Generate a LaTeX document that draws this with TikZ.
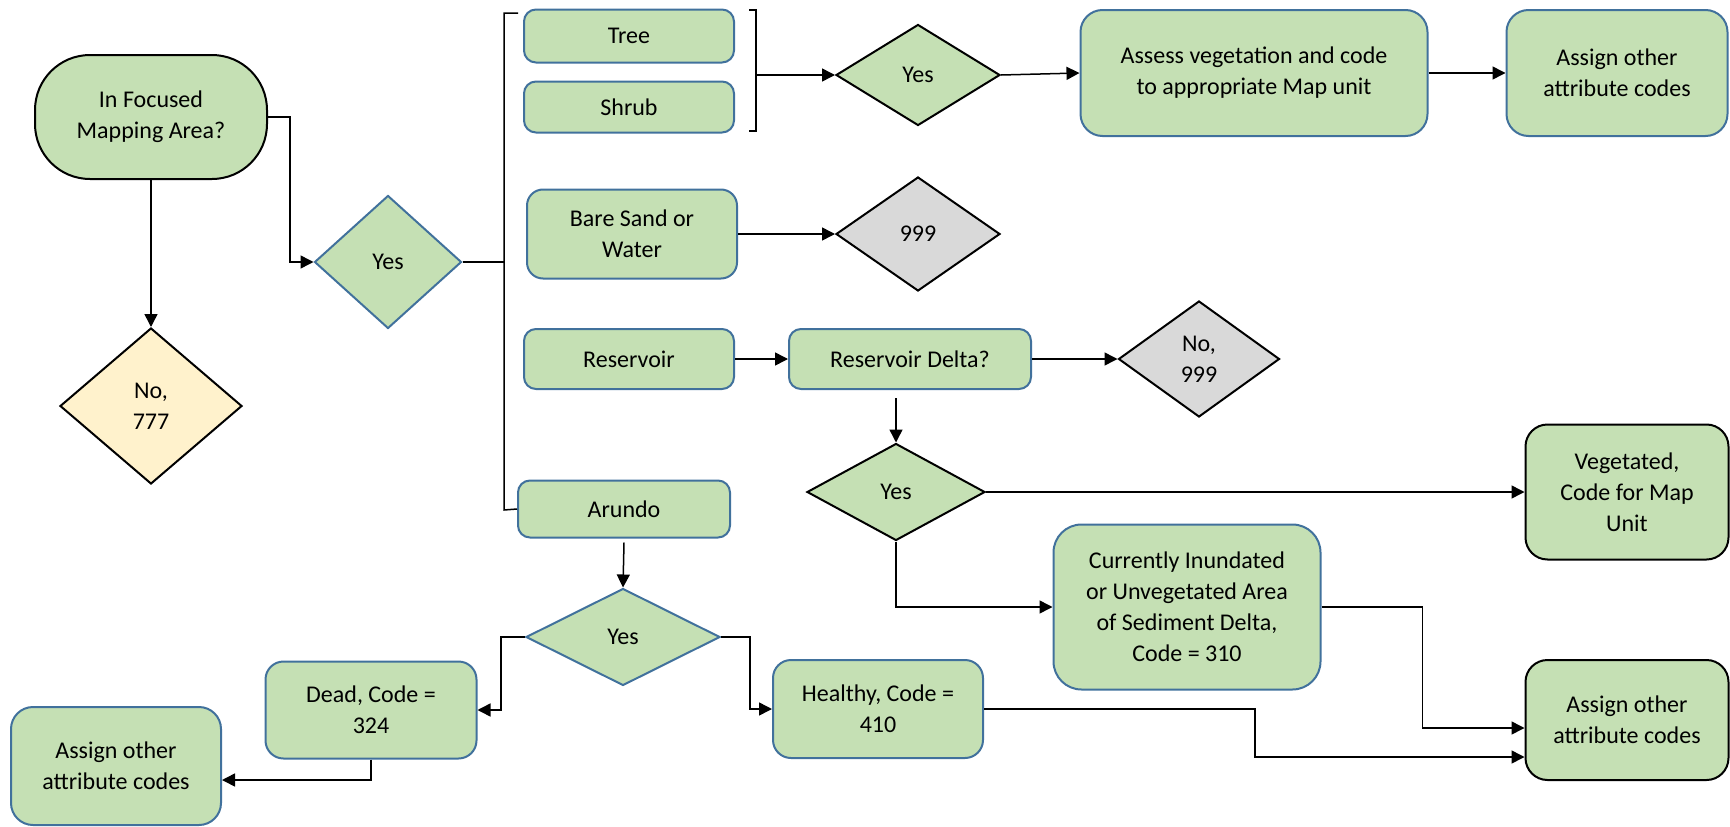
\documentclass[tikz,border=0pt]{standalone}
\usepackage{fontspec}
\setmainfont{Carlito}
\usetikzlibrary{shapes.geometric,arrows.meta,calc}
\definecolor{gfill}{HTML}{C5E0B4}
\definecolor{bdr}{HTML}{41719C}
\definecolor{grayfill}{HTML}{D9D9D9}
\definecolor{yelfill}{HTML}{FFF2CC}
\begin{document}
\begin{tikzpicture}[x=1pt,y=-1pt,
 every node/.style={font=\fontsize{24}{31}\selectfont, align=center, inner sep=0pt},
 gbox/.style={draw=bdr, fill=gfill, line width=2pt, rounded corners=12pt},
 kbox/.style={draw=black, fill=gfill, line width=2pt, rounded corners=22pt},
 dia/.style={diamond, line width=2pt},
 conn/.style={line width=1.5pt},
 arr/.style={conn, -{Triangle[length=13pt,width=13pt]}}]
\useasboundingbox (0,0) rectangle (1730,827);

\node[kbox, rounded corners=55pt, minimum width=232pt, minimum height=124pt] (start) at (151,117) {In Focused\\Mapping Area?};
\node[dia, draw=black, fill=yelfill, minimum width=182pt, minimum height=156pt] (no777) at (151,406) {No,\\777};
\node[dia, draw=bdr, fill=gfill, minimum width=147pt, minimum height=133pt] (yes1) at (388,262) {Yes};
\node[gbox, minimum width=210pt, minimum height=53pt] (tree) at (629,36) {Tree};
\node[gbox, minimum width=210pt, minimum height=51pt] (shrub) at (629,107) {Shrub};
\node[dia, draw=black, fill=gfill, minimum width=164pt, minimum height=101pt] (yes2) at (918,75) {Yes};
\node[gbox, rounded corners=22pt, minimum width=347pt, minimum height=126pt] (assess) at (1254,73) {Assess vegetation and code\\to appropriate Map unit};
\node[gbox, rounded corners=22pt, minimum width=221pt, minimum height=126pt] (assign1) at (1617,73) {Assign other\\attribute codes};
\node[gbox, rounded corners=16pt, minimum width=210pt, minimum height=89pt] (bare) at (632,234) {Bare Sand or\\Water};
\node[dia, draw=black, fill=grayfill, minimum width=164pt, minimum height=114pt] (n999) at (918,234) {999};
\node[gbox, minimum width=210pt, minimum height=60pt] (res) at (629,359) {Reservoir};
\node[gbox, minimum width=242pt, minimum height=60pt] (rd) at (910,359) {Reservoir Delta?};
\node[dia, draw=black, fill=grayfill, minimum width=161pt, minimum height=116pt] (no999) at (1199,359) {No,\\999};
\node[dia, draw=black, fill=gfill, minimum width=178pt, minimum height=97pt] (yes3) at (896,492) {Yes};
\node[kbox, minimum width=203pt, minimum height=135pt] (veg) at (1627,492) {Vegetated,\\Code for Map\\Unit};
\node[gbox, rounded corners=28pt, minimum width=267pt, minimum height=165pt] (cur) at (1187,607) {Currently Inundated\\or Unvegetated Area\\of Sediment Delta,\\Code = 310};
\node[kbox, minimum width=203pt, minimum height=120pt] (assign2) at (1627,720) {Assign other\\attribute codes};
\node[gbox, minimum width=212pt, minimum height=57pt] (arundo) at (624,509) {Arundo};
\node[dia, draw=bdr, fill=gfill, minimum width=194pt, minimum height=97pt] (yes4) at (623,637) {Yes};
\node[gbox, rounded corners=18pt, minimum width=211pt, minimum height=97pt] (dead) at (371,710) {Dead, Code =\\324};
\node[gbox, rounded corners=22pt, minimum width=210pt, minimum height=118pt] (assign3) at (116,766) {Assign other\\attribute codes};
\node[gbox, rounded corners=18pt, minimum width=210pt, minimum height=98pt] (healthy) at (878,709) {Healthy, Code =\\410};

% brackets
\coordinate (lbmid) at (504,262);
\coordinate (rbmid) at (756,75);
\draw[conn] (518,13) -- (504,13) -- (504,510) -- (arundo.west);
\draw[conn] (749,10) -- (756,10) -- (756,131) -- (749,131);

% connectors
\draw[arr] (start.south) -- (no777.north);
\draw[arr] (start.east) -- ++(22,0) |- (yes1.west);
\draw[conn] (yes1.east) -- (lbmid);
\draw[arr] (rbmid) -- (yes2.west);
\draw[arr] (yes2.east) -- (assess.west);
\draw[arr] (assess.east) -- (assign1.west);
\draw[arr] (bare.east) -- (n999.west);
\draw[arr] (res.east) -- (rd.west);
\draw[arr] (rd.east) -- (no999.west);
\draw[arr] ($(yes3.north |- rd.south)+(0,8)$) -- (yes3.north);
\draw[arr] (yes3.east) -- (veg.west);
\draw[arr] (yes3.south) |- (cur.west);
\draw[arr] (cur.east) -- ++(101,0) |- ($(assign2.west)+(0,8)$);
\draw[arr] ($(arundo.south)+(0,4)$) -- (yes4.north);
\draw[arr] (yes4.west) -- ++(-24,0) |- (dead.east);
\draw[arr] (yes4.east) -- ++(29,0) |- (healthy.west);
\draw[arr] (dead.south) |- ($(assign3.east)+(0,14)$);
\draw[arr] (healthy.east) -- ++(271,0) |- ($(assign2.west)+(0,37)$);
\end{tikzpicture}
\end{document}
